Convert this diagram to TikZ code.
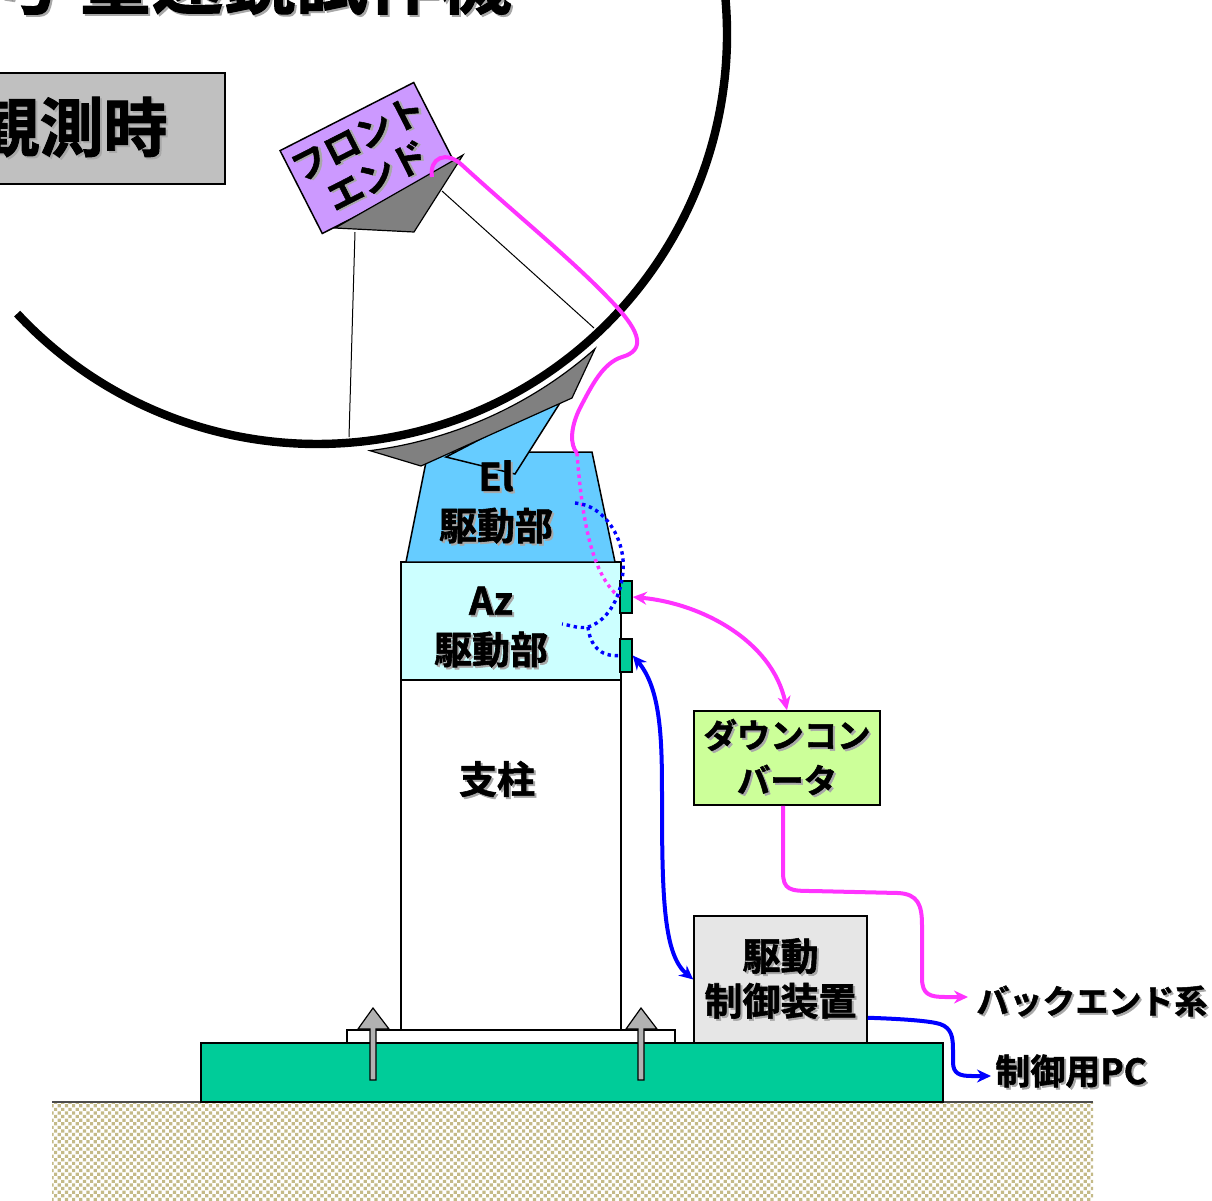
\documentclass[tikz,border=0pt]{standalone}
\usepackage{fontspec}
\setmainfont{Noto Sans CJK JP}[BoldFont={Noto Sans CJK JP Bold}, BoldFeatures={FakeBold=1.5}]
\usetikzlibrary{arrows.meta,calc,patterns}

\definecolor{fepurple}{HTML}{CC99FF}
\definecolor{elblue}{HTML}{66CCFF}
\definecolor{azcyan}{HTML}{CCFFFF}
\definecolor{jade}{HTML}{00CC99}
\definecolor{dclime}{HTML}{CCFF99}
\definecolor{ctlgray}{HTML}{E6E6E6}
\definecolor{ttlgray}{HTML}{C0C0C0}
\definecolor{plategray}{HTML}{808080}
\definecolor{boltgray}{HTML}{B2B2B2}
\definecolor{sigmag}{HTML}{FF33FF}
\definecolor{sandtan}{RGB}{196,186,136}
\definecolor{shadowgray}{HTML}{A8A8A8}

% staggered grain texture for the soil
\pgfdeclarepatternformonly{grains}{\pgfqpoint{-1pt}{-1pt}}{\pgfqpoint{4.6pt}{4.6pt}}{\pgfqpoint{3.6pt}{3.6pt}}{%
  \pgfpathrectangle{\pgfqpoint{0pt}{0pt}}{\pgfqpoint{1.6pt}{1.6pt}}%
  \pgfpathrectangle{\pgfqpoint{1.8pt}{1.8pt}}{\pgfqpoint{1.6pt}{1.6pt}}%
  \pgfusepath{fill}}

% text with a grey drop shadow
\newcommand\shtxt[1]{\leavevmode\rlap{\kern1pt\raisebox{-1pt}{\textcolor{shadowgray}{#1}}}#1}

\tikzset{
  box/.style={draw=black, line width=0.75pt, inner sep=0pt},
  lbl/.style={inner sep=0pt, align=center},
  jpL/.style={align=center, font=\fontsize{19pt}{24.5pt}\selectfont\bfseries},
  jpM/.style={align=center, font=\fontsize{16.7pt}{22.5pt}\selectfont\bfseries},
  jpS/.style={font=\fontsize{16.5pt}{20pt}\selectfont\bfseries},
  magline/.style={draw=sigmag, line width=2pt},
  bluline/.style={draw=blue, line width=2pt},
  dotline/.style={line width=1.7pt, dash pattern=on 1.7pt off 1.9pt},
  tipA/.style={-{Stealth[length=7pt,width=6.5pt]}},
  tipAB/.style={{Stealth[length=7pt,width=6.5pt]}-{Stealth[length=7pt,width=6.5pt]}},
  bolt/.style={fill=boltgray, draw=black, line width=0.6pt},
}

\begin{document}
\begin{tikzpicture}[x=0.5pt,y=-0.5pt]
\useasboundingbox (0,0) rectangle (1212,1201);
\clip (0,0) rectangle (1212,1201);
\fill[white] (0,0) rectangle (1212,1201);

% heading, cut by the page edge
\node[lbl, anchor=base east, font=\fontsize{36pt}{36pt}\selectfont\bfseries] (ttl) at (512,8) {\shtxt{1号 望遠鏡試作機}};

% observation-mode tag
\node[box, line width=1pt, fill=ttlgray, minimum width=117.5pt, minimum height=55.5pt] (obsbox) at (107.5,128.5) {};
\node[lbl, anchor=east, font=\fontsize{32pt}{32pt}\selectfont\bfseries] (obs) at (168,128) {\shtxt{観測時}};

% soil and foundation
\fill[pattern=grains, pattern color=sandtan] (52,1102) rectangle (1093,1210);
\draw[line width=0.75pt, black!70] (52,1102) -- (1093,1102);
\draw[fill=jade, line width=0.6pt] (201,1043) rectangle (943,1102);
\draw[fill=white, line width=0.75pt] (347,1030) rectangle (675,1043);

% anchor bolts
\draw[bolt] (370,1080) -- (370,1029) -- (358,1029) -- (373,1008) -- (389,1029) -- (376,1029) -- (376,1080) -- cycle;
\draw[bolt] (638,1080) -- (638,1029) -- (626,1029) -- (641,1008) -- (657,1029) -- (644,1029) -- (644,1080) -- cycle;

% pillar and azimuth drive
\node[box, fill=white, minimum width=110pt, minimum height=175pt] (col) at (511,855) {};
\node[box, fill=azcyan, minimum width=110pt, minimum height=59pt] (az) at (511,621) {};

% elevation drive body and its arm
\draw[fill=elblue, line width=0.75pt] (428,452) -- (592,452) -- (615,562) -- (406,562) -- cycle;
\draw[fill=elblue, line width=0.75pt] (446,457) -- (515,474) -- (565,395) -- cycle;

% support legs of the feed
\draw[line width=0.5pt] (355,232) -- (349,437);
\draw[line width=0.5pt] (442,191) -- (594,328);

% main reflector
\draw[line width=4.2pt] (725.1,-5.3) arc[start angle=5.5, end angle=-137, radius=205pt];

% back plate of the reflector
\draw[fill=plategray, line width=0.6pt] (595,348.8) arc[start angle=-48.55, end angle=-82.75, radius=210pt] -- (421,466) -- (572,398) -- cycle;

% front end and feed horn
\node[box, fill=fepurple, rotate=27, minimum width=75pt, minimum height=46.5pt, align=center, font=\fontsize{18pt}{21pt}\selectfont\bfseries] (fe) at (368,158) {\shtxt{フロント}\\\shtxt{エンド}};
\draw[fill=plategray, line width=0.6pt] (463,155) -- (335,228) -- (414,232) -- cycle;

% labels of the mount
\node[lbl, jpL] (elt) at (496,503) {\shtxt{El}\\\shtxt{駆動部}};
\node[lbl, jpL] (azt) at (491,628) {\shtxt{Az}\\\shtxt{駆動部}};
\node[lbl, jpL] (colt) at (497,780) {\shtxt{支柱}};

% connectors on the azimuth drive
\node[box, fill=jade, minimum width=6pt, minimum height=16pt] (c1) at (626,597) {};
\node[box, fill=jade, minimum width=6pt, minimum height=16.5pt] (c2) at (626,655.5) {};

% equipment boxes
\node[box, fill=dclime, minimum width=93pt, minimum height=47pt, jpM] (dc) at (787,758) {\shtxt{ダウンコン}\\\shtxt{バータ}};
\node[box, fill=ctlgray, minimum width=86.5pt, minimum height=63.5pt, align=center, font=\fontsize{19pt}{22.5pt}\selectfont\bfseries] (ctl) at (780.5,979.5) {\shtxt{駆動}\\\shtxt{制御装置}};
\node[lbl, jpS, anchor=west] (bel) at (976,1002) {\shtxt{バックエンド系}};
\node[lbl, jpS, anchor=west, font=\fontsize{17.5pt}{20pt}\selectfont\bfseries] (pcl) at (995,1072) {\shtxt{制御用PC}};

% IF cable from the front end down through the mount
\coordinate (fep) at (432,177);
\coordinate (elin) at (577,453);
\draw[magline] (fep) .. controls (429,158) and (446,150) .. (462,165)
  .. controls (520,218) and (575,262) .. (615,305)
  .. controls (640,332) and (646,350) .. (622,357)
  .. controls (603,363) and (592,385) .. (580,408)
  .. controls (570,428) and (570,445) .. (elin);
\draw[magline, dotline] (elin) .. controls (582,520) and (592,575) .. (c1.west);

% internal drive wiring
\coordinate (elb) at (575,503);
\coordinate (fork) at (588,627);
\coordinate (azb) at (562,624);
\draw[bluline, dotline] (elb) .. controls (605,505) and (626,540) .. (623,572)
  .. controls (620,602) and (605,622) .. (fork)
  .. controls (578,629) and (570,625) .. (azb);
\draw[bluline, dotline] (fork) .. controls (590,645) and (600,657) .. (c2.west);

% external cables
\draw[magline, tipAB] (c1.east) .. controls (700,603) and (772,640) .. (dc.north);
\draw[bluline, tipAB] (c2.east) .. controls (662,690) and (662,745) .. (662,800)
  .. controls (662,900) and (664,955) .. (ctl.west);
\draw[magline, tipA] ($(dc.south)+(-4,0)$) -- (783,872)
  .. controls (783,890) and (790,891) .. (812,891) -- (898,893)
  .. controls (918,894) and (922,905) .. (922,925) -- (922,978)
  .. controls (922,995) and (930,997) .. (946,997) -- ($(bel.west)+(-8,-5)$);
\draw[bluline, tipA] ($(ctl.south east)+(0,-26)$) .. controls (905,1019) and (930,1021) .. (940,1024)
  .. controls (952,1028) and (953,1038) .. (953,1050) -- (953,1062)
  .. controls (953,1074) and (960,1076) .. (972,1076) -- ($(pcl.west)+(-4,4)$);
\end{tikzpicture}
\end{document}
